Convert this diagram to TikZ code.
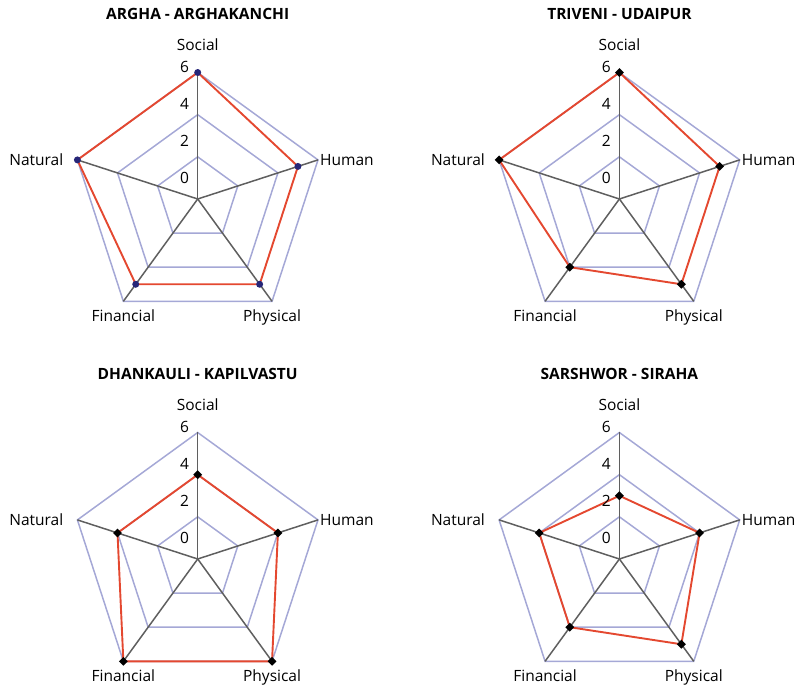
\documentclass[tikz,border=0pt]{standalone}
\usepackage{fontspec}
\setmainfont{Open Sans}
\usetikzlibrary{shapes.geometric,positioning}
\definecolor{gridblue}{RGB}{165,168,214}
\definecolor{spokegray}{RGB}{95,95,95}
\definecolor{seriesred}{RGB}{228,72,48}
\definecolor{navy}{RGB}{38,38,120}

\begin{document}
\begin{tikzpicture}[x=1pt,y=1pt,
    grid/.style={draw=gridblue,line width=1.5pt,line join=miter},
    spoke/.style={draw=spokegray,line width=1.5pt},
    series/.style={draw=seriesred,line width=1.9pt,line join=round},
    dot/.style={circle,fill=navy,inner sep=0pt,minimum size=7pt},
    gem/.style={diamond,fill=black,inner sep=0pt,minimum size=9pt},
    cat/.style={font=\fontsize{15.5}{18}\selectfont,inner sep=1pt},
    tick/.style={font=\fontsize{15.5}{18}\selectfont,inner sep=1pt,anchor=east},
    heading/.style={font=\bfseries\fontsize{15.5}{18}\selectfont,inner sep=1pt}]
    \useasboundingbox (0,0) rectangle (797,687);
            % one radar chart per district
            \foreach \ch/\cx/\cy/\ttl/\s/\h/\p/\f/\n/\mk in {
                tl/197.7/488/ARGHA - ARGHAKANCHI/6/5/5/5/6/dot,
                tr/619.4/488/TRIVENI - UDAIPUR/6/5/5/4/6/gem,
                bl/197.7/128/DHANKAULI - KAPILVASTU/4/4/6/6/4/gem,
                br/619.4/128/SARSHWOR - SIRAHA/3/4/5/4/4/gem} {
                \begin{scope}[shift={(\cx,\cy)}]
                    \foreach \r in {2,4,6} {
                        \draw[grid] (90:\r*21.08) -- (18:\r*21.08) -- (-54:\r*21.08)
                            -- (-126:\r*21.08) -- (162:\r*21.08) -- cycle;
                    }
                    \coordinate (\ch-c) at (0,0);
                    \foreach \a/\nm in {90/Social,18/Human,-54/Physical,-126/Financial,162/Natural} {
                        \coordinate (\ch-\nm) at (\a:126.5);
                        \draw[spoke] (\ch-c) -- (\ch-\nm);
                    }
                    \coordinate (\ch-d1) at (90:\s*21.08);
                    \coordinate (\ch-d2) at (18:\h*21.08);
                    \coordinate (\ch-d3) at (-54:\p*21.08);
                    \coordinate (\ch-d4) at (-126:\f*21.08);
                    \coordinate (\ch-d5) at (162:\n*21.08);
                    \draw[series] (\ch-d1) -- (\ch-d2) -- (\ch-d3) -- (\ch-d4) -- (\ch-d5) -- cycle;
                    \foreach \i in {1,...,5} {
                        \node[\mk] (\ch-m\i) at (\ch-d\i) {};
                    }
                    \foreach \k in {0,2,4,6} {
                        \node[tick] (\ch-t\k) at (-7.5,21+18.5*\k) {\k};
                    }
                    \node[cat,above=21pt of \ch-Social] (\ch-lS) {Social};
                    \node[cat,right=1pt of \ch-Human] (\ch-lH) {Human};
                    \node[cat,left=13pt of \ch-Natural] (\ch-lN) {Natural};
                    \node[cat,below=7pt of \ch-Financial] (\ch-lF) {Financial};
                    \node[cat,below=7pt of \ch-Physical] (\ch-lP) {Physical};
                    \node[heading] (\ch-title) at (0,185) {\ttl};
                \end{scope}
            }
        \end{tikzpicture}
\end{document}
